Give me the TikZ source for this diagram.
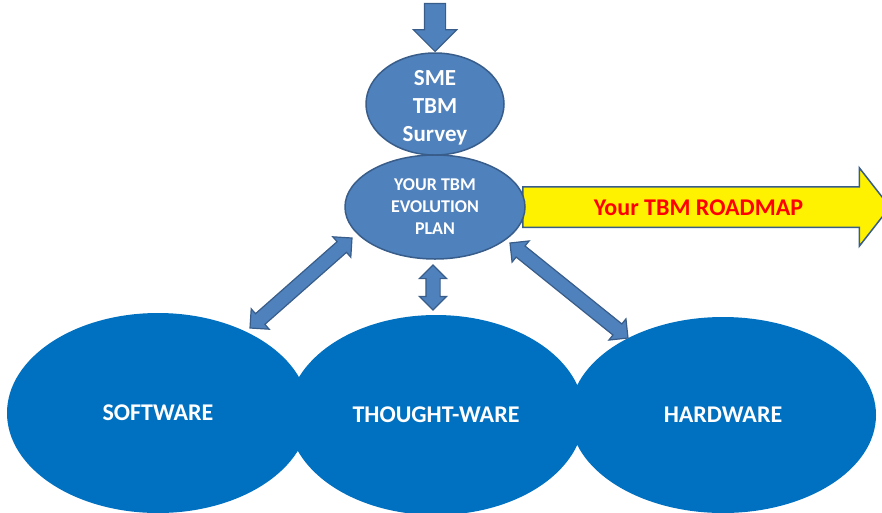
\documentclass[tikz,border=0pt]{standalone}
\usepackage{fontspec}
\setmainfont{Carlito}
\usetikzlibrary{shapes.geometric,shapes.arrows,calc}

\definecolor{planblue}{HTML}{4F81BD}
\definecolor{planedge}{HTML}{385D8A}
\definecolor{baseblue}{HTML}{0070C0}

\tikzset{
  baseblob/.style={ellipse, fill=baseblue, inner sep=0pt, minimum width=302pt,
    minimum height=200pt, text=white, font=\fontsize{24}{28}\selectfont\bfseries},
  planblob/.style={ellipse, fill=planblue, draw=planedge, line width=1.5pt,
    inner sep=0pt, minimum width=180pt, minimum height=104pt, text=white, align=center,
    font=\fontsize{18}{22}\selectfont\bfseries},
  roadarrow/.style={single arrow, fill=yellow, draw=planedge, line width=1.5pt,
    inner xsep=0pt, inner ysep=10.5pt, text height=17pt, text depth=1pt,
    minimum height=367pt, single arrow head extend=19pt, single arrow tip angle=104,
    text=red, font=\fontsize{24}{28}\selectfont\bfseries},
  inarrow/.style={single arrow, fill=planblue, draw=planedge, line width=1.2pt,
    inner xsep=0pt, inner ysep=10pt, minimum height=48pt,
    single arrow head extend=11pt, single arrow tip angle=90},
  linkarrow/.style={double arrow, fill=planblue, draw=planedge, line width=1.2pt,
    inner xsep=0pt, inner ysep=6.5pt, double arrow head extend=6.5pt,
    double arrow tip angle=90}
}

\begin{document}
\begin{tikzpicture}[x=1pt,y=-1pt]
\useasboundingbox (0,0) rectangle (882,512);

% the three bases
\node[baseblob] (soft) at (158,413) {SOFTWARE};
\node[baseblob, minimum width=296pt] (thought) at (436,415) {THOUGHT-WARE};
\node[baseblob, minimum width=306pt, minimum height=196pt] (hard) at (723,415) {HARDWARE};

% roadmap
\node[roadarrow] (road) at (698.5,207) {Your TBM ROADMAP};

% plan and survey
\node[planblob] (plan) at (435,207) {YOUR TBM\\EVOLUTION\\PLAN};
\node[planblob, minimum width=138pt, minimum height=102pt,
  font=\fontsize{23}{28}\selectfont\bfseries] (sme) at (435,104)
  {\raisebox{-10pt}[0pt][0pt]{\begin{tabular}{@{}c@{}}SME\\TBM\\Survey\end{tabular}}};

% input
\node[inarrow, rotate=-90, anchor=tip] (input) at (sme.north) {};

% links between plan and bases
\coordinate (la) at (250,328);
\coordinate (lb) at (352,238);
\coordinate (ma) at (433,310);
\coordinate (mb) at (433,265);
\coordinate (ra) at (628,338);
\coordinate (rb) at (510,243);
\foreach \s/\t in {la/lb, ma/mb, ra/rb} {
  \path let \p1=($(\t)-(\s)$), \n1={atan2(\y1,\x1)}, \n2={veclen(\x1,\y1)} in
    node[linkarrow, rotate=\n1, minimum height=\n2] (link-\s) at ($(\s)!0.5!(\t)$) {};
}

\end{tikzpicture}
\end{document}
